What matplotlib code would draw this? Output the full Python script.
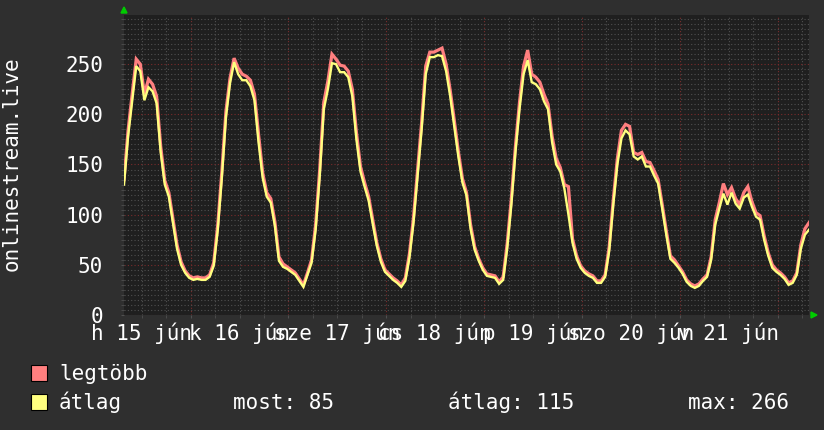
import numpy as np
import pandas as pd
import matplotlib
matplotlib.use('Agg')
from matplotlib import pyplot as plt
import matplotlib.dates as mdates
from matplotlib.ticker import MultipleLocator
from matplotlib.patches import Rectangle, Polygon


# hourly samples, 2015-06-15 07:40 -> 2015-06-22 07:40
START = '2015-06-15 07:40'
avg_vals = [
    130, 178, 213, 248, 243, 214, 227, 223, 211, 162, 130, 118, 92, 66, 50, 42, 37, 35, 36, 35,
    35, 38, 49, 85, 137, 197, 231, 252, 240, 234, 234, 228, 214, 172, 137, 118, 112, 89, 54, 48,
    46, 43, 40, 34, 28, 40, 52, 85, 138, 205, 225, 251, 250, 242, 242, 237, 218, 175, 143, 128,
    114, 91, 69, 53, 43, 39, 35, 32, 28, 34, 57, 92, 139, 185, 240, 257, 257, 259, 258, 243,
    218, 188, 158, 132, 119, 86, 65, 54, 45, 39, 38, 37, 31, 35, 67, 110, 162, 205, 240, 254,
    232, 230, 225, 213, 205, 172, 150, 143, 126, 100, 72, 56, 47, 42, 39, 37, 32, 32, 38, 64,
    110, 150, 176, 184, 180, 158, 155, 158, 148, 148, 139, 131, 106, 80, 56, 52, 47, 41, 33, 29,
    27, 29, 34, 38, 55, 90, 106, 121, 110, 122, 111, 106, 117, 120, 108, 98, 95, 75, 59, 47,
    43, 40, 36, 30, 32, 40, 66, 80, 85,
]
max_vals = [
    135, 184, 220, 255, 250, 220, 235, 230, 218, 168, 134, 122, 96, 70, 53, 44, 39, 37, 38, 37,
    37, 40, 52, 90, 143, 203, 236, 256, 246, 240, 238, 234, 220, 180, 142, 122, 116, 93, 58, 51,
    48, 45, 42, 36, 30, 42, 55, 90, 145, 212, 233, 260, 255, 249, 248, 243, 225, 182, 148, 132,
    118, 95, 72, 56, 45, 41, 37, 34, 30, 37, 61, 97, 145, 192, 248, 262, 262, 264, 266, 250,
    224, 194, 163, 136, 122, 90, 68, 56, 47, 41, 40, 39, 33, 38, 72, 116, 168, 212, 248, 264,
    240, 237, 232, 220, 210, 178, 156, 147, 130, 128, 76, 59, 49, 44, 41, 39, 34, 34, 40, 68,
    115, 156, 184, 190, 188, 162, 160, 162, 153, 152, 144, 135, 110, 84, 59, 55, 49, 43, 35, 31,
    29, 31, 36, 40, 58, 95, 112, 131, 120, 127, 116, 110, 122, 128, 113, 102, 99, 79, 62, 50,
    45, 42, 38, 32, 34, 42, 70, 86, 92,
]
day_labels = ['h 15 jún', 'k 16 jún', 'sze 17 jún', 'cs 18 jún', 'p 19 jún', 'szo 20 jún', 'v 21 jún']
y_title = 'onlinestream.live'
legend_names = ['legtöbb', 'átlag']
stats = ['most: 85', 'átlag: 115', 'max: 266']

BG = '#2f2f2f'
CANVAS = '#1f1f1f'
RED = '#ff7f7f'
YELLOW = '#ffff7f'
FONT = 'DejaVu Sans Mono'
W, H = 824, 430

plt.rcParams['font.family'] = FONT
times = pd.date_range(START, periods=len(avg_vals), freq='h')

fig = plt.figure(figsize=(W / 100, H / 100), dpi=100, facecolor=BG)
ax = fig.add_axes([124 / W, 1 - 315 / H, 685 / W, 300 / H])
ax.set_facecolor(CANVAS)

ax.plot(times, max_vals, color=RED, lw=2.3, solid_joinstyle='miter')
ax.plot(times, avg_vals, color=YELLOW, lw=1.7, solid_joinstyle='miter')

t0 = pd.Timestamp(START)
ax.set_xlim(t0, t0 + pd.Timedelta(days=7))
ax.set_ylim(0, 299)

# grid: gray every 6h / 5 units, red at midnight / 50 units
ax.xaxis.set_minor_locator(mdates.HourLocator(byhour=[6, 12, 18]))
ax.xaxis.set_major_locator(mdates.DayLocator())
ax.yaxis.set_major_locator(MultipleLocator(50))
ax.yaxis.set_minor_locator(MultipleLocator(5))
ax.grid(which='minor', color='#505050', lw=0.8, ls=(0, (1, 2)))
ax.grid(which='major', color='#7a2c2c', lw=0.8, ls=(0, (1, 2)))
ax.set_axisbelow(True)

ax.tick_params(axis='both', which='both', length=2, color='#505050')
ax.tick_params(axis='y', which='major', labelsize=15, labelcolor='white', pad=13)
ax.tick_params(axis='x', which='major', labelbottom=False)
for s in ax.spines.values():
    s.set_visible(False)

# day labels centred at noon
for i, lab in enumerate(day_labels):
    noon = mdates.date2num(pd.Timestamp('2015-06-15 12:00') + pd.Timedelta(days=i))
    ax.text(noon, -0.025, lab, transform=ax.get_xaxis_transform(), ha='center', va='top',
            fontsize=15, color='white')

fig.text(12 / W, 1 - 164 / H, y_title, rotation=90, ha='center', va='center',
         fontsize=15, color='white')

# legend rows
sq_colors = [RED, YELLOW]
base = [380, 409]
for name, col, yb in zip(legend_names, sq_colors, base):
    fig.add_artist(Rectangle((31.5 / W, 1 - (yb + 1) / H), 16 / W, 16 / H,
                             transform=fig.transFigure, facecolor=col, edgecolor='black', lw=0.8))
    fig.text(59 / W, 1 - yb / H, name, ha='left', va='baseline', fontsize=15, color='white')
for txt, xs in zip(stats, [233, 448, 688]):
    fig.text(xs / W, 1 - base[1] / H, txt, ha='left', va='baseline', fontsize=15, color='white')

# axis arrows
green = '#00cc00'
fig.add_artist(Polygon([(121 / W, 1 - 13 / H), (127 / W, 1 - 13 / H), (124 / W, 1 - 7 / H)],
                       closed=True, transform=fig.transFigure, color=green))
fig.add_artist(Polygon([(811 / W, 1 - 312 / H), (811 / W, 1 - 318 / H), (817 / W, 1 - 315 / H)],
                       closed=True, transform=fig.transFigure, color=green))

fig.savefig('out.png', dpi=100, facecolor=BG)
